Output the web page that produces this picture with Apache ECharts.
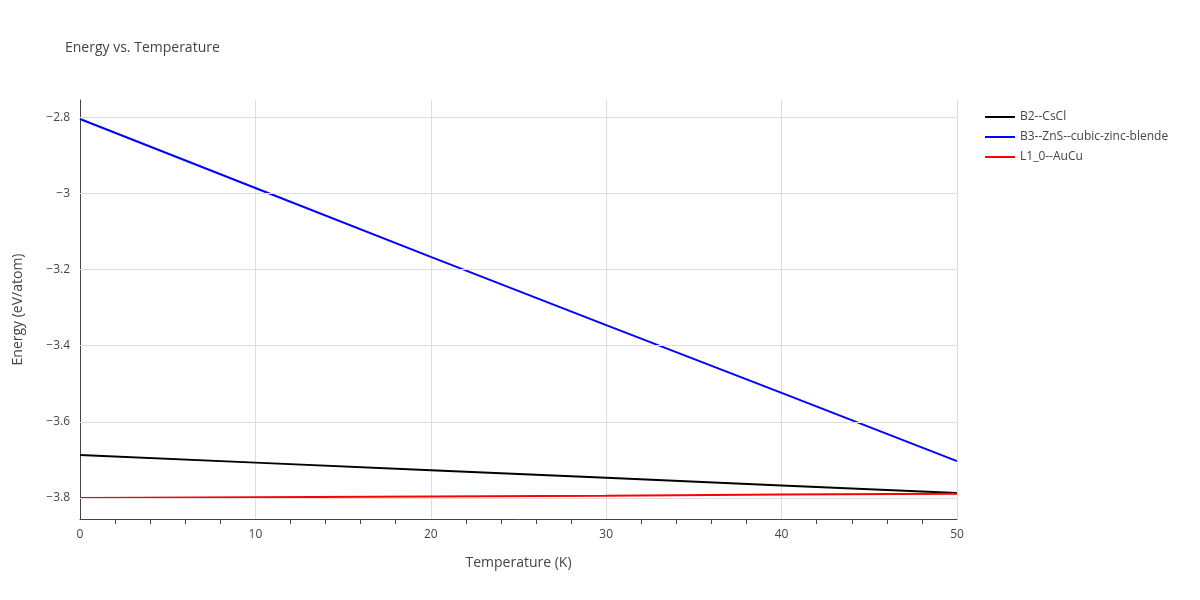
<!DOCTYPE html>
<html><head><meta charset="utf-8">
<script src="https://cdn.jsdelivr.net/npm/echarts@6/dist/echarts.min.js"></script>
<style>html,body{margin:0;background:#fff}#c{width:1200px;height:600px}</style>
</head><body><div id="c"></div>
<script>
const temps = [0, 10, 20, 30, 40, 50];
const b2 = [-3.687, -3.707, -3.727, -3.747, -3.767, -3.787];
const b3 = [-2.805, -2.986, -3.167, -3.346, -3.524, -3.703];
const l10 = [-3.800, -3.798, -3.796, -3.794, -3.791, -3.789];
const names = ['B2--CsCl', 'B3--ZnS--cubic-zinc-blende', 'L1_0--AuCu'];
const colors = ['#000000', '#0000ff', '#ff0000'];
const sets = [b2, b3, l10];
const font = '"Open Sans", sans-serif';
const chart = echarts.init(document.getElementById('c'));
chart.setOption({
  animation: false,
  title: {text: 'Energy vs. Temperature', left: 60, top: 36, textStyle: {fontFamily: font, fontSize: 14, fontWeight: 'normal', color: '#444'}},
  legend: {orient: 'vertical', left: 980, top: 106, itemWidth: 30, itemHeight: 2, itemGap: 8, icon: 'rect',
    textStyle: {fontFamily: font, fontSize: 12, color: '#444'}, data: names},
  grid: {left: 80, right: 243, top: 100, bottom: 81},
  xAxis: {type: 'value', min: 0, max: 50, interval: 10, name: 'Temperature (K)', nameLocation: 'middle', nameGap: 37,
    nameTextStyle: {fontFamily: font, fontSize: 14, color: '#444'},
    axisLine: {show: true, lineStyle: {color: '#444'}}, axisTick: {show: false},
    minorTick: {show: true, splitNumber: 5, length: 5, lineStyle: {color: '#444'}},
    axisLabel: {fontFamily: font, fontSize: 12, color: '#444', margin: 10},
    splitLine: {show: true, lineStyle: {color: '#ddd'}}},
  yAxis: {type: 'value', min: -3.855, max: -2.755, name: 'Energy (eV/atom)', nameLocation: 'middle', nameGap: 55,
    nameTextStyle: {fontFamily: font, fontSize: 14, color: '#444'},
    axisLine: {show: true, lineStyle: {color: '#444'}}, axisTick: {show: false},
    axisLabel: {fontFamily: font, fontSize: 12, color: '#444', margin: 10,
      customValues: [-3.8, -3.6, -3.4, -3.2, -3, -2.8],
      formatter: v => (Math.round(v * 10) / 10).toString().replace('-', '\u2212')},
    splitLine: {show: false}},
  series: [
    ...names.map((n, i) => ({name: n, type: 'line', showSymbol: false, symbol: 'none', color: colors[i],
      lineStyle: {width: 2, color: colors[i]}, data: temps.map((t, j) => [t, sets[i][j]]), z: 3})),
    {type: 'line', silent: true, data: [], markLine: {silent: true, symbol: 'none', label: {show: false},
      lineStyle: {color: '#ddd', type: 'solid', width: 1},
      data: [-3.8, -3.6, -3.4, -3.2, -3, -2.8].map(v => ({yAxis: v}))}, z: 1}
  ]
});
</script></body></html>
